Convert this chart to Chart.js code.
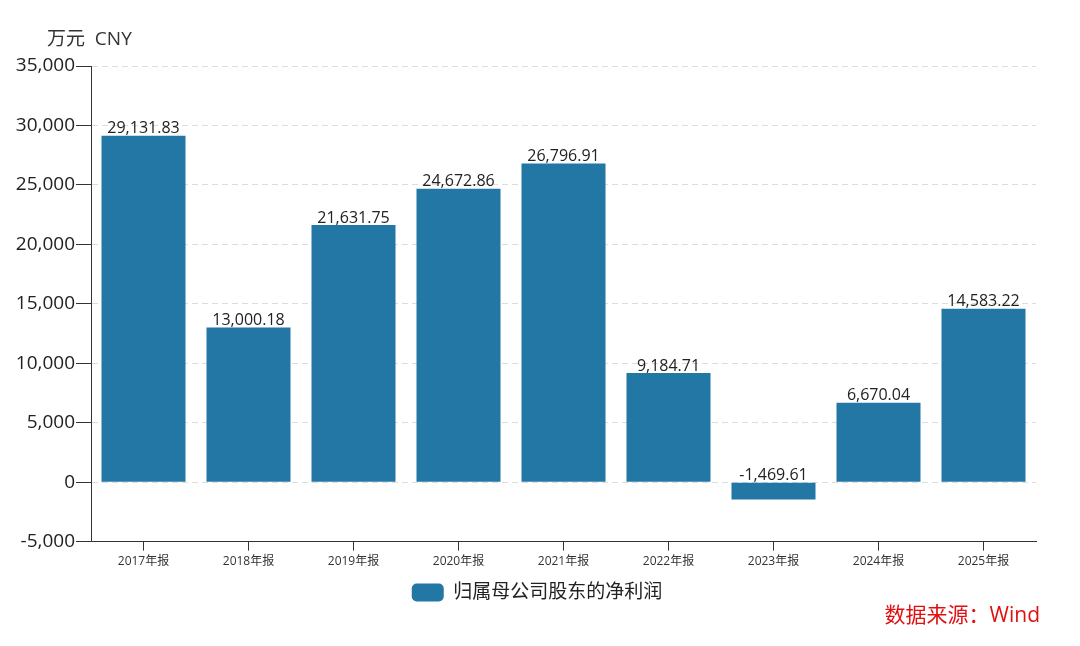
<!DOCTYPE html>
<html>
<head>
<meta charset="utf-8">
<script src="https://cdn.jsdelivr.net/npm/chart.js"></script>
<style>
  html, body { margin: 0; padding: 0; background: #fff; }
</style>
</head>
<body>
<canvas id="profitChart" width="1080" height="646"></canvas>
<script>
// data
const periods = ['2017年报', '2018年报', '2019年报', '2020年报', '2021年报', '2022年报', '2023年报', '2024年报', '2025年报'];
const netProfit = [29131.83, 13000.18, 21631.75, 24672.86, 26796.91, 9184.71, -1469.61, 6670.04, 14583.22];
const seriesName = '归属母公司股东的净利润';
const unitLabel = '万元  CNY';
const sourceLabel = '数据来源：Wind';

const FONT = "'Open Sans', 'Noto Sans CJK SC', sans-serif";

// value labels above each bar
const barValues = {
  id: 'barValues',
  afterDatasetsDraw(chart) {
    const ctx = chart.ctx;
    const meta = chart.getDatasetMeta(0);
    ctx.save();
    ctx.font = '16px ' + FONT;
    ctx.fillStyle = '#222';
    ctx.textAlign = 'center';
    ctx.textBaseline = 'bottom';
    meta.data.forEach((bar, i) => {
      const top = Math.min(bar.y, bar.base);
      ctx.fillText(netProfit[i].toLocaleString('en-US', { minimumFractionDigits: 2 }), bar.x, top + 1);
    });
    ctx.restore();
  }
};

// unit text top-left and source text bottom-right
const extraText = {
  id: 'extraText',
  afterLayout(chart) {
    // nudge the legend a bit right, as in the reference
    chart.legend.left += 14;
    chart.legend.right += 14;
  },
  afterDraw(chart) {
    const ctx = chart.ctx;
    ctx.save();
    ctx.font = '19px ' + FONT;
    ctx.fillStyle = '#333';
    ctx.textAlign = 'left';
    ctx.textBaseline = 'middle';
    ctx.fillText(unitLabel, 47, 40);
    ctx.font = '21px ' + FONT;
    ctx.fillStyle = '#e01010';
    ctx.textAlign = 'right';
    ctx.fillText(sourceLabel, 1040, 616);
    ctx.restore();
  }
};

const ctx = document.getElementById('profitChart').getContext('2d');
new Chart(ctx, {
  type: 'bar',
  data: {
    labels: periods,
    datasets: [{
      label: seriesName,
      data: netProfit,
      backgroundColor: '#2377a4',
      borderWidth: 0,
      categoryPercentage: 0.8,
      barPercentage: 1.0
    }]
  },
  options: {
    responsive: false,
    animation: false,
    devicePixelRatio: 1,
    layout: { padding: { top: 66, right: 44, left: 10, bottom: 34 } },
    plugins: {
      tooltip: { enabled: false },
      legend: {
        position: 'bottom',
        labels: {
          boxWidth: 32,
          boxHeight: 18,
          useBorderRadius: true,
          borderRadius: 5,
          color: '#222',
          font: { family: FONT, size: 19 },
          padding: 10
        }
      }
    },
    scales: {
      x: {
        grid: {
          offset: false,
          drawOnChartArea: false,
          drawTicks: true,
          tickLength: 9,
          tickColor: '#333'
        },
        border: { color: '#333', width: 1 },
        ticks: { color: '#333', font: { family: FONT, size: 12 }, padding: 4, maxRotation: 0 }
      },
      y: {
        min: -5000,
        max: 35000,
        afterFit(scale) { scale.width = 81; },
        grid: {
          color: '#dcdcdc',
          tickColor: '#333',
          tickLength: 15,
          drawTicks: true
        },
        border: { color: '#333', width: 1, dash: [6, 4] },
        ticks: {
          stepSize: 5000,
          color: '#222',
          padding: 1,
          font: { family: FONT, size: 19 },
          callback: v => v.toLocaleString('en-US')
        }
      }
    }
  },
  plugins: [barValues, extraText]
});
</script>
</body>
</html>
